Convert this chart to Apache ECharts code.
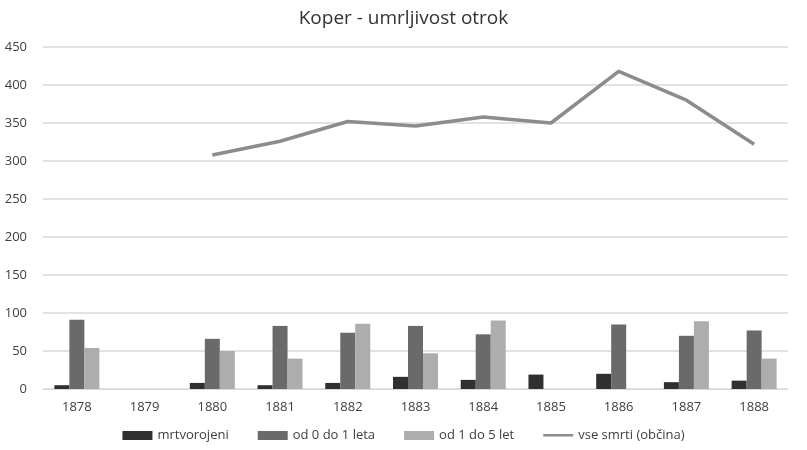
<!DOCTYPE html>
<html>
<head>
<meta charset="utf-8">
<script src="https://cdn.jsdelivr.net/npm/echarts@6/dist/echarts.min.js"></script>
<style>
  html, body { margin: 0; padding: 0; background: #fff; }
  #chart { width: 807px; height: 450px; }
</style>
</head>
<body>
<div id="chart"></div>
<script>
const years = ['1878', '1879', '1880', '1881', '1882', '1883', '1884', '1885', '1886', '1887', '1888'];
const mrtvorojeni = [5, null, 8, 5, 8, 16, 12, 19, 20, 9, 11];
const od0do1 = [91, null, 66, 83, 74, 83, 72, null, 85, 70, 77];
const od1do5 = [54, null, 50, 40, 86, 47, 90, null, null, 89, 40];
const vseSmrti = [null, null, 308, 326, 352, 346, 358, 350, 418, 380, 322];

const chart = echarts.init(document.getElementById('chart'));
const fontFamily = '"Open Sans", Calibri, sans-serif';

// thin stripe icon with the same bounding box as the bar icons
const lineIcon = 'path://M0,0 L0.01,0 L0,0.01 Z M0,3 L30,3 L30,5.5 L0,5.5 Z M30,9 L29.99,9 L30,8.99 Z';

const option = {
    backgroundColor: '#fff',
    animation: false,
    textStyle: { fontFamily: fontFamily },
    title: {
        text: 'Koper - umrljivost otrok',
        left: 'center',
        top: 4,
        textStyle: { fontSize: 19, fontWeight: 'normal', color: '#333', fontFamily: fontFamily }
    },
    legend: {
        bottom: 3,
        left: 'center',
        itemWidth: 30,
        itemHeight: 9,
        itemGap: 29,
        textStyle: { fontSize: 13, color: '#404040' },
        data: [
            { name: 'mrtvorojeni', icon: 'rect' },
            { name: 'od 0 do 1 leta', icon: 'rect' },
            { name: 'od 1 do 5 let', icon: 'rect' },
            { name: 'vse smrti (občina)', icon: lineIcon }
        ]
    },
    grid: { left: 43, right: 19, top: 47, bottom: 61 },
    xAxis: {
        type: 'category',
        data: years,
        axisLine: { lineStyle: { color: '#d9d9d9' } },
        axisTick: { show: false },
        axisLabel: { fontSize: 13, color: '#404040', margin: 12 }
    },
    yAxis: {
        type: 'value',
        min: 0,
        max: 450,
        interval: 50,
        axisLine: { show: false },
        axisTick: { show: false },
        splitLine: { lineStyle: { color: '#d9d9d9', width: 1.5 } },
        axisLabel: { fontSize: 13, color: '#404040', margin: 16 }
    },
    series: [
        {
            name: 'mrtvorojeni', type: 'bar', data: mrtvorojeni,
            barWidth: 15, barGap: '0%',
            itemStyle: { color: '#303030' }
        },
        {
            name: 'od 0 do 1 leta', type: 'bar', data: od0do1,
            barWidth: 15, barGap: '0%',
            itemStyle: { color: '#6a6a6a' }
        },
        {
            name: 'od 1 do 5 let', type: 'bar', data: od1do5,
            barWidth: 15, barGap: '0%',
            itemStyle: { color: '#adadad' }
        },
        {
            name: 'vse smrti (občina)', type: 'line', data: vseSmrti,
            symbol: 'none',
            lineStyle: { color: '#8c8c8c', width: 3.5 },
            itemStyle: { color: '#8c8c8c' }
        }
    ]
};

chart.setOption(option);
window.addEventListener('resize', () => {
    chart.resize();
});
</script>
</body>
</html>
